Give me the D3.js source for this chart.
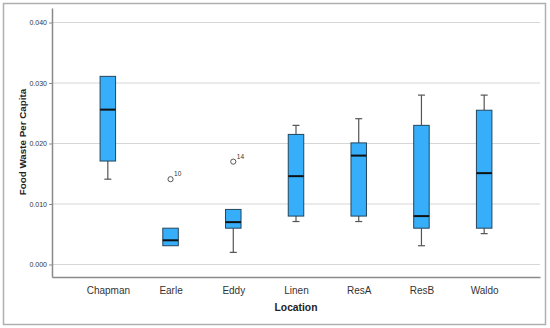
<!DOCTYPE html>
<html>
<head>
<meta charset="utf-8">
<script src="https://cdnjs.cloudflare.com/ajax/libs/d3/7.8.5/d3.min.js"></script>
<style>
  body { margin: 0; background: #fff; }
  svg { display: block; font-family: "Liberation Sans", Arial, sans-serif; }
</style>
</head>
<body>
<div id="chart"></div>
<script>
var w = 550;
var h = 328;

// box plot values
var locations = ["Chapman", "Earle", "Eddy", "Linen", "ResA", "ResB", "Waldo"];
var whiskerLow = [0.0141, 0.0031, 0.002, 0.0071, 0.0071, 0.0031, 0.0051];
var q1 = [0.0171, 0.0031, 0.006, 0.008, 0.008, 0.006, 0.006];
var median = [0.0256, 0.004, 0.007, 0.0146, 0.018, 0.008, 0.0151];
var q3 = [0.0311, 0.006, 0.0091, 0.0215, 0.0201, 0.023, 0.0255];
var whiskerHigh = [0.0311, 0.006, 0.0091, 0.023, 0.0241, 0.028, 0.028];
var outlierLoc = ["Earle", "Eddy"];
var outlierVal = [0.0141, 0.017];
var outlierId = ["10", "14"];
var yTicks = [0, 0.01, 0.02, 0.03, 0.04];

var plotLeft = 52, plotRight = 540, plotTop = 8, plotBottom = 277;

var svg = d3.select("#chart")
            .append("svg")
            .attr("width", w)
            .attr("height", h);

// outer frame
svg.append("rect")
    .attr("x", 3.5).attr("y", 3.5)
    .attr("width", 542).attr("height", 321)
    .attr("fill", "none")
    .attr("stroke", "#b0b0b0")
    .attr("stroke-width", 1.5);

var xScale = d3.scalePoint()
    .domain(locations)
    .range([plotLeft, plotRight])
    .padding(0.89);

var yScale = d3.scaleLinear()
    .domain([-0.00207, 0.0424])
    .range([plotBottom, plotTop]);

// gridlines
svg.append("g")
    .selectAll("line")
    .data(yTicks)
    .enter()
    .append("line")
    .attr("x1", plotLeft).attr("x2", plotRight)
    .attr("y1", d => yScale(d)).attr("y2", d => yScale(d))
    .attr("stroke", "#d6d6d6")
    .attr("stroke-width", 1);

// y axis
var yAxis = d3.axisLeft()
    .scale(yScale)
    .tickValues(yTicks)
    .tickFormat(d3.format(".3f"))
    .tickSize(3)
    .tickSizeOuter(0)
    .tickPadding(2);
var gy = svg.append("g")
    .attr("transform", "translate(" + plotLeft + ", 0)")
    .call(yAxis);
gy.select(".domain").attr("stroke", "#8a8a8a").attr("stroke-width", 1.5);
gy.selectAll(".tick line").attr("stroke", "#8a8a8a");
gy.selectAll(".tick text")
    .attr("font-size", 7)
    .attr("fill", "#333")
    .attr("font-family", "Liberation Sans, Arial, sans-serif");

// x axis
var xAxis = d3.axisBottom()
    .scale(xScale)
    .tickSize(0)
    .tickPadding(10);
var gx = svg.append("g")
    .attr("transform", "translate(0, " + plotBottom + ")")
    .call(xAxis);
gx.select(".domain").attr("stroke", "#8a8a8a").attr("stroke-width", 1.5);
gx.selectAll(".tick text")
    .attr("font-size", 10)
    .attr("fill", "#333")
    .attr("font-family", "Liberation Sans, Arial, sans-serif");

// axis titles
svg.append("text")
    .attr("x", (plotLeft + plotRight) / 2)
    .attr("y", 311)
    .attr("text-anchor", "middle")
    .attr("font-size", 10.3)
    .attr("font-weight", "bold")
    .attr("fill", "#222")
    .text("Location");

svg.append("text")
    .attr("transform", "translate(26, 142) rotate(-90)")
    .attr("text-anchor", "middle")
    .attr("font-size", 9.8)
    .attr("font-weight", "bold")
    .attr("fill", "#222")
    .text("Food Waste Per Capita");

// boxes
var boxW = 15.5;
var capW = 7;
var boxes = svg.append("g")
    .selectAll("g")
    .data(locations)
    .enter()
    .append("g");

// whiskers
boxes.append("line")
    .attr("x1", d => xScale(d)).attr("x2", d => xScale(d))
    .attr("y1", (d, i) => yScale(whiskerLow[i]))
    .attr("y2", (d, i) => yScale(q1[i]))
    .attr("stroke", "#555").attr("stroke-width", 1.2);
boxes.append("line")
    .attr("x1", d => xScale(d)).attr("x2", d => xScale(d))
    .attr("y1", (d, i) => yScale(whiskerHigh[i]))
    .attr("y2", (d, i) => yScale(q3[i]))
    .attr("stroke", "#555").attr("stroke-width", 1.2);
// caps
boxes.filter((d, i) => whiskerLow[i] < q1[i]).append("line")
    .attr("x1", d => xScale(d) - capW / 2).attr("x2", d => xScale(d) + capW / 2)
    .attr("y1", d => yScale(whiskerLow[locations.indexOf(d)]))
    .attr("y2", d => yScale(whiskerLow[locations.indexOf(d)]))
    .attr("stroke", "#555").attr("stroke-width", 1.2);
boxes.filter((d, i) => whiskerHigh[i] > q3[i]).append("line")
    .attr("x1", d => xScale(d) - capW / 2).attr("x2", d => xScale(d) + capW / 2)
    .attr("y1", d => yScale(whiskerHigh[locations.indexOf(d)]))
    .attr("y2", d => yScale(whiskerHigh[locations.indexOf(d)]))
    .attr("stroke", "#555").attr("stroke-width", 1.2);

boxes.append("rect")
    .attr("x", d => xScale(d) - boxW / 2)
    .attr("y", (d, i) => yScale(q3[i]))
    .attr("width", boxW)
    .attr("height", (d, i) => yScale(q1[i]) - yScale(q3[i]))
    .attr("fill", "#36aefa")
    .attr("stroke", "#24465c")
    .attr("stroke-width", 1);

boxes.append("line")
    .attr("x1", d => xScale(d) - boxW / 2).attr("x2", d => xScale(d) + boxW / 2)
    .attr("y1", (d, i) => yScale(median[i]))
    .attr("y2", (d, i) => yScale(median[i]))
    .attr("stroke", "#111").attr("stroke-width", 2);

// outliers
var outl = svg.append("g")
    .selectAll("g")
    .data(outlierLoc)
    .enter()
    .append("g");
outl.append("circle")
    .attr("cx", d => xScale(d))
    .attr("cy", (d, i) => yScale(outlierVal[i]))
    .attr("r", 2.6)
    .attr("fill", "#fff")
    .attr("stroke", "#555")
    .attr("stroke-width", 1);
outl.append("text")
    .attr("x", d => xScale(d) + 3.5)
    .attr("y", (d, i) => yScale(outlierVal[i]) - 3)
    .attr("font-size", 6.5)
    .attr("fill", "#333")
    .text((d, i) => outlierId[i]);
</script>
</body>
</html>
